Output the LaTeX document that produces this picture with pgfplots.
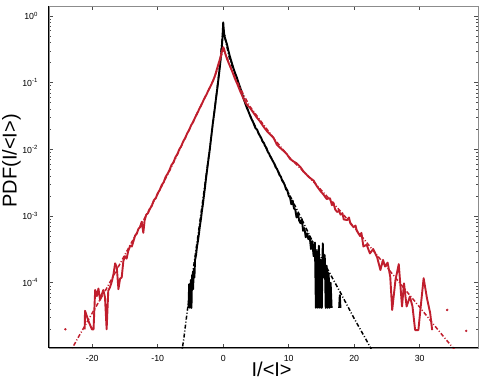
\documentclass[border=0pt]{standalone}
\usepackage{pgfplots}
\pgfplotsset{compat=1.18}
\usepackage{fontspec}
\setmainfont{Liberation Sans}
\usetikzlibrary{calc}
\definecolor{myred}{RGB}{192,30,45}
\newcommand{\tp}[1]{10\raisebox{0.42em}{\fontsize{6}{7}\selectfont #1}}
\begin{document}
\begin{tikzpicture}
\begin{axis}[
  scale only axis, width=429pt, height=342pt,
  xmin=-26.6, xmax=38.9, ymin=1.05e-5, ymax=1.41, ymode=log,
  xtick={-20,-10,0,10,20,30}, xticklabels={-20,-10,0,10,20,30},
  ytick={1e-5,1e-4,1e-3,1e-2,1e-1,1,10},
  yticklabels={,\tp{-4},\tp{-3},\tp{-2},\tp{-1},\tp{0},},
  tick align=inside, major tick length=4pt, minor tick length=2.5pt,
  tick style={color=black!70, line width=0.5pt},
  axis line style={black!45, line width=0.6pt},
  tick label style={font=\fontsize{8.8}{10}\selectfont},
  xticklabel style={yshift=-4pt},
  yticklabel style={xshift=-8pt},
  unbounded coords=jump,
]
% black data
\addplot[black, line width=1.9pt, line join=round] coordinates {
(-5.3,4.2e-5) (-5.2,9.5e-5) (-5.1,4.2e-5) (-4.95,1.1e-4) (-4.85,4.2e-5) (-4.75,1.3e-4) (-4.6,8e-5) (-4.5,1.6e-4) (-4.4,1.2e-4) (-4.3,2.2e-4) (-4.15,2.6e-4) (-4.0,3.5e-4) (-3.85,4.3e-4) (-3.7,5.5e-4) (-3.55,7.2e-4) (-3.4,9.0e-4) (-3.25,1.2e-3) (-3.1,1.5e-3) (-2.95,2.0e-3) (-2.8,2.6e-3) (-2.65,3.5e-3) (-2.5,4.6e-3) (-2.35,6.0e-3) (-2.2,7.8e-3) (-2.05,1.0e-2) (-1.9,1.35e-2) (-1.75,1.8e-2) (-1.6,2.4e-2) (-1.45,3.1e-2) (-1.3,4.0e-2) (-1.15,5.3e-2) (-1.0,6.9e-2) (-0.85,9.0e-2) (-0.7,0.12) (-0.55,0.16) (-0.4,0.22) (-0.25,0.31) (-0.12,0.45) (0,0.80)
(0.12,0.55) (0.3,0.45) (0.56,0.38) (0.8,0.30) (1.0,0.25) (1.2,0.215) (1.4,0.185) (1.6,0.16) (1.83,0.138) (2.1,0.118) (2.35,0.098) (2.6,0.084) (2.85,0.07) (3.1,0.058) (3.36,0.049) (3.6,0.042) (3.85,0.037) (4.1,0.032) (4.35,0.028) (4.6,0.025) (4.9,0.021) (5.2,0.0195) (5.4,0.0172) (5.6,0.016) (5.8,0.0148) (6.0,0.0132) (6.2,0.0125) (6.4,0.0112) (6.6,0.0105) (6.8,0.0092) (7.0,0.0086) (7.2,0.0078) (7.4,0.0072) (7.6,0.0066) (7.8,0.0061) (8.0,0.0054) (8.2,0.0051) (8.4,0.0046) (8.6,0.0041) (8.8,0.0039) (9.0,0.0034) (9.2,0.0032) (9.4,0.0029) (9.6,0.0025) (9.8,0.0024) (10.0,0.0020) (10.2,0.0019) (10.4,0.0015) (10.6,0.0017) (10.8,0.0013) (11.0,0.00125) (11.2,0.00095) (11.4,0.0011) (11.6,0.00085) (11.8,0.00078) (12.0,0.00090) (12.2,0.00060) (12.4,0.00066) (12.6,0.00048) (12.8,0.00055) (13.0,0.00045) (13.2,0.00050) (13.4,0.00032) (13.6,0.00042) (13.8,0.00025) (14.0,0.00040) (14.15,4.2e-5) (14.3,3.0e-4) (14.45,4.2e-5) (14.6,3.6e-4) (14.75,4.2e-5) (14.9,2.2e-4) (15.05,4.2e-5) (15.2,3.9e-4) (15.35,1.2e-4) (15.5,2.6e-4) (15.65,4.2e-5) (15.8,1.8e-4) (15.95,4.2e-5) (16.1,1.4e-4) (16.25,4.2e-5) (16.4,1.0e-4) (16.55,4.2e-5)
(17.0,nan) (17.7,4.2e-5) (17.8,6.5e-5) (17.9,4.2e-5)
};
% black fit
\addplot[black, line width=1.5pt, dash pattern=on 4pt off 2pt on 1pt off 2pt] coordinates {
(-6.6,6.0e-6) (-6.0,1.5e-5) (-5.5,3.7e-5) (-5.0,8.3e-5) (-4.5,1.8e-4) (-4.0,4.0e-4) (-3.0,2.1e-3) (-2.0,1.1e-2) (-1.0,7.0e-2) (-0.5,0.19) (0,0.68) (0.5,0.37) (1.0,0.22) (2.0,0.12) (3.0,0.062) (4.0,0.034) (5.0,0.021) (6.0,0.0132) (8.0,0.0056) (10.0,0.0022) (12.0,8.9e-4) (14.0,3.5e-4) (16.0,1.55e-4) (18.0,6.8e-5) (20.0,2.9e-5) (22.0,1.3e-5) (23.0,8.5e-6)
};
% red data
\addplot[myred, line width=1.9pt, line join=round] coordinates {
(-21.15,2.0e-5) (-21.1,3.8e-5) (-20.6,2.7e-5) (-20.05,2.0e-5) (-19.8,2.0e-5) (-19.55,7.8e-5) (-19.3,6.3e-5) (-19.05,8.2e-5) (-18.8,5.5e-5) (-18.55,6.6e-5) (-18.3,7.8e-5) (-18.05,6.0e-5) (-17.8,2.0e-5) (-17.55,7.6e-5) (-17.3,8.5e-5) (-17.0,1.05e-4) (-16.75,1.35e-4) (-16.5,1.95e-4) (-16.25,1.7e-4) (-16.0,8.0e-5) (-15.75,1.15e-4) (-15.5,1.2e-4) (-15.25,2.1e-4) (-15.0,2.5e-4) (-14.75,2.3e-4) (-14.5,3.0e-4) (-14.2,3.6e-4) (-13.95,3.5e-4) (-13.7,4.2e-4) (-13.45,5.1e-4) (-13.2,5.4e-4) (-12.95,6.4e-4) (-12.7,6.8e-4) (-12.45,8.2e-4) (-12.2,5.6e-4) (-12.0,8.6e-4) (-11.75,1.05e-3) (-11.5,1.1e-3) (-11.2,1.28e-3) (-10.9,1.42e-3) (-10.6,1.72e-3) (-10.3,1.85e-3) (-10.0,2.2e-3) (-9.7,2.45e-3) (-9.4,2.9e-3) (-9.1,3.2e-3) (-8.8,3.85e-3) (-8.5,4.3e-3) (-8.2,4.9e-3) (-7.9,5.8e-3) (-7.6,6.4e-3) (-7.3,7.6e-3) (-7.0,8.5e-3) (-6.7,1.0e-2) (-6.4,1.12e-2) (-6.1,1.32e-2) (-5.8,1.48e-2) (-5.5,1.74e-2) (-5.2,1.95e-2) (-4.9,2.3e-2) (-4.6,2.55e-2) (-4.3,3.0e-2) (-4.0,3.4e-2) (-3.7,3.95e-2) (-3.4,4.5e-2) (-3.1,5.2e-2) (-2.8,6.0e-2) (-2.5,6.8e-2) (-2.2,7.9e-2) (-1.9,9.0e-2) (-1.6,0.104) (-1.3,0.123) (-1.0,0.155) (-0.7,0.195) (-0.45,0.234) (-0.2,0.295) (0,0.34)
(0.15,0.316) (0.3,0.275) (0.6,0.224) (0.85,0.195) (1.07,0.174) (1.4,0.145) (1.75,0.117) (2.1,0.098) (2.6,0.074) (3.1,0.0575) (3.6,0.0468) (4.1,0.0417) (4.6,0.0355) (5.1,0.0302) (5.6,0.0263) (6.15,0.0219) (6.7,0.0186) (7.2,0.0166) (7.7,0.0148) (8.2,0.0117) (8.7,0.0105) (9.2,0.0095) (9.7,0.0085) (10.2,0.0072) (10.7,0.0066) (11.2,0.0062) (11.8,0.0054) (12.3,0.0046) (12.8,0.0041) (13.3,0.0037) (13.8,0.0034) (14.3,0.0028) (14.8,0.0024) (15.3,0.0021) (15.8,0.0018) (16.3,0.00185) (16.6,0.00145) (16.8,0.0016) (17.1,0.00125) (17.4,0.00115) (17.7,0.0012) (17.9,0.00105) (18.2,0.0011) (18.4,0.00089) (18.9,0.00087) (19.2,0.00095) (19.4,0.00078) (19.9,0.00068) (20.2,0.00072) (20.4,0.0006) (20.9,0.0005) (21.1,0.00056) (21.4,3.5e-4) (21.9,3.7e-4) (22.4,2.75e-4) (22.9,3.2e-4) (23.5,2.4e-4) (24.0,1.55e-4) (24.4,2.2e-4) (24.7,1.75e-4) (25.1,2.0e-4) (25.5,1.23e-4) (25.8,3.9e-5) (26.3,1.1e-4) (26.8,1.9e-4) (27.3,4.4e-5) (27.6,9.8e-5) (28.0,4.4e-5) (28.5,6.2e-5) (28.9,4.4e-5) (29.3,1.95e-5) (29.8,1.95e-5) (30.1,3.9e-5) (30.6,1.17e-4) (31.1,5.9e-5) (31.6,3.5e-5) (31.9,1.95e-5)
};
% red fit
\addplot[myred, line width=1.5pt, dash pattern=on 4pt off 2pt on 1pt off 2pt] coordinates {
(-23.5,8.7e-6) (-22,1.6e-5) (-20,3.5e-5) (-18,7.6e-5) (-16,1.74e-4) (-14,4.0e-4) (-12,9.3e-4) (-10,2.14e-3) (-8,5.2e-3) (-6,1.35e-2) (-4,3.47e-2) (-2.5,6.8e-2) (-1.5,0.11) (-1,0.148) (-0.5,0.21) (0,0.32) (0.5,0.25) (1,0.18) (1.5,0.14) (2.5,0.086) (4,0.045) (6,0.0245) (8,0.0135) (10,0.0078) (12,0.0049) (14,0.0031) (16,0.0019) (18,0.00115) (20,0.00068) (22,3.9e-4) (24,2.24e-4) (26,1.29e-4) (28,7.4e-5) (30,4.3e-5) (32,2.45e-5) (34,1.41e-5) (35.5,9.5e-6)
};
% isolated red points
\addplot[only marks, mark=*, mark size=1pt, myred] coordinates {(-24.1,2.0e-5) (34.2,3.9e-5) (37.1,1.9e-5)};
\end{axis}
\draw[black, line width=1pt] (current axis.north west) -- (current axis.south west) -- (current axis.south east);
\node[rotate=90, anchor=base, font=\fontsize{20}{24}\selectfont] at ($(current axis.south west)!0.547!(current axis.north west) + (-32.3pt,0)$) {PDF(I/<I>)};
\node[anchor=base, font=\fontsize{20}{24}\selectfont] at ($(current axis.south west)!0.519!(current axis.south east) + (0,-28.7pt)$) {I/<I>};
\pgfresetboundingbox
\path[use as bounding box] ($(current axis.south west)+(-49pt,-34pt)$) rectangle ($(current axis.north east)+(10pt,6pt)$);
\end{tikzpicture}
\end{document}
